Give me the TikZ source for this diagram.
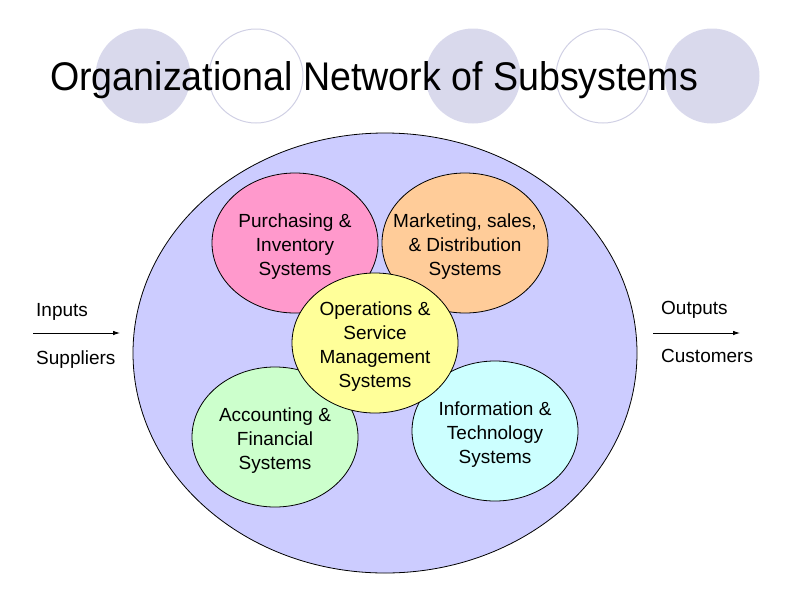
\documentclass[tikz,border=0pt]{standalone}
\usepackage{fontspec}
\usepackage{graphicx}
\setmainfont{Liberation Sans}
\usetikzlibrary{shapes.geometric,arrows.meta}

\definecolor{decofill}{RGB}{217,217,236}
\definecolor{decoline}{RGB}{208,208,228}
\definecolor{orgfill}{RGB}{204,204,255}
\definecolor{pinkfill}{RGB}{255,153,204}
\definecolor{orangefill}{RGB}{255,204,153}
\definecolor{yellowfill}{RGB}{255,255,153}
\definecolor{greenfill}{RGB}{204,255,204}
\definecolor{cyanfill}{RGB}{204,255,255}

\tikzset{
  subsys/.style={ellipse, draw=black, line width=0.8pt, minimum width=166pt, minimum height=140pt, inner sep=0pt},
  subtext/.style={align=center, yshift=-3.5pt, font=\fontsize{19}{24}\selectfont},
  side/.style={anchor=base west, inner sep=0pt, font=\fontsize{19}{24}\selectfont},
  flow/.style={-{Latex[length=7pt,width=4.5pt]}, line width=0.8pt},
}

\begin{document}
\begin{tikzpicture}[x=1pt, y=-1pt]
    \useasboundingbox (0, 0) rectangle (800, 600);

    % circles behind the title
    \foreach \x in {143, 473, 712} {
      \fill [decofill] (\x, 76) circle (47.5pt);
    }
    \foreach \x in {256, 603} {
      \draw [decoline, line width=1pt] (\x, 76) circle (47pt);
    }
    \node [anchor = base west, inner sep = 0pt, font = \fontsize{40}{48}\selectfont] (title) at (50, 90)
      {\scalebox{0.94}[1]{Organizational Network of Subsystems}};

    % the organization and its subsystems
    \node [subsys, fill = orgfill, minimum width = 504pt, minimum height = 440pt] (org) at (385, 353) {};

    \node [subsys, fill = pinkfill] (purchasing) at (295, 243) {};
    \node [subtext] (purchasing-txt) at (purchasing) {Purchasing \&\\Inventory\\Systems};
    \node [subsys, fill = orangefill] (marketing) at (465, 243) {};
    \node [subtext] (marketing-txt) at (marketing) {Marketing, sales,\\\& Distribution\\Systems};
    \node [subsys, fill = greenfill] (accounting) at (275, 437) {};
    \node [subtext] (accounting-txt) at (accounting) {Accounting \&\\Financial\\Systems};
    \node [subsys, fill = cyanfill] (information) at (495, 431) {};
    \node [subtext] (information-txt) at (information) {Information \&\\Technology\\Systems};
    \node [subsys, fill = yellowfill] (operations) at (375, 343) {};
    \node [subtext] (operations-txt) at (operations) {Operations \&\\Service\\Management\\Systems};

    % inputs and outputs
    \node [side] (inputs) at (36, 316.5) {Inputs};
    \node [side] (suppliers) at (36, 364) {Suppliers};
    \coordinate (in-start) at (33, 333);
    \coordinate (in-end) at (120, 333);
    \draw [flow] (in-start) -- (in-end);

    \node [side] (outputs) at (661, 314) {Outputs};
    \node [side] (customers) at (661, 362) {Customers};
    \coordinate (out-start) at (653, 333);
    \coordinate (out-end) at (740, 333);
    \draw [flow] (out-start) -- (out-end);
  \end{tikzpicture}
\end{document}
